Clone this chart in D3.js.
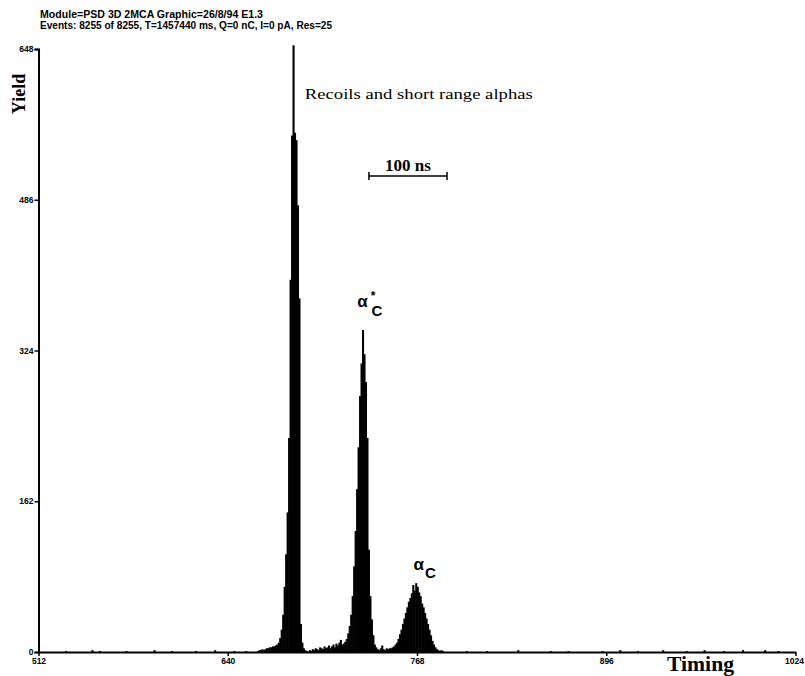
<!DOCTYPE html>
<html>
<head>
<meta charset="utf-8">
<script src="https://cdn.jsdelivr.net/npm/d3@7"></script>
<style>
  body { margin: 0; background: #fff; }
  svg { display: block; }
</style>
</head>
<body>
<svg id="chart" width="805" height="676"></svg>
<script>
// Acquisition header printed above the spectrum
const headerLines = [
  "Module=PSD 3D 2MCA Graphic=26/8/94 E1.3",
  "Events: 8255 of 8255, T=1457440 ms, Q=0 nC, I=0 pA, Res=25"
];

// Axis ticks (channel numbers and counts)
const xTicks = [512, 640, 768, 896, 1024];
const yTicks = [0, 162, 324, 486, 648];

// Counts per channel for the peak region, starting at channel 660
const firstChannel = 660;
const counts = [
  1, 2, 2, 3, 2, 3, 4, 4, 5, 5,              // 660
  6, 6, 7, 8, 10, 15, 24, 40, 70, 105,        // 670
  150, 230, 400, 555, 652, 558, 550, 480, 380, 30, // 680
  10, 4, 2, 1, 0, 2, 1, 3, 2, 4,              // 690
  3, 2, 5, 4, 3, 6, 4, 5, 7, 4,               // 700
  6, 8, 5, 9, 7, 10, 13, 8, 9, 11,            // 710
  14, 20, 28, 40, 60, 92, 130, 175, 220, 275, // 720
  310, 346, 320, 290, 230, 110, 60, 35, 18, 8, // 730
  5, 3, 2, 4, 7, 3, 2, 4, 3, 4,               // 740
  4, 5, 6, 8, 10, 14, 19, 24, 30, 36,         // 750
  42, 48, 54, 58, 63, 72, 66, 74, 70, 64,     // 760
  60, 52, 48, 42, 36, 30, 24, 18, 12, 8,      // 770
  5, 3, 2, 1, 2, 1                            // 780
];

// Sparse background hits outside the peak region
const bgChannels = [530, 548, 553, 571, 590, 602, 618, 631, 644, 652,
                    801, 815, 836, 858, 870, 893, 905, 917, 934, 950, 962, 975, 988, 1003, 1012];
const bgCounts   = [1, 2, 1, 1, 2, 1, 1, 2, 1, 1,
                    1, 1, 2, 1, 1, 1, 2, 1, 2, 1, 2, 1, 2, 2, 1];

const chMin = 512;

// Non-empty channels of the histogram
const hist = counts.map((n, i) => ({ ch: firstChannel + i, n }))
  .concat(bgChannels.map((ch, i) => ({ ch, n: bgCounts[i] })))
  .filter(d => d.n > 0);

const svg = d3.select("#chart");

const x = d3.scaleLinear().domain([512, 1024]).range([38.5, 795.5]);
const y = d3.scaleLinear().domain([0, 648]).range([652, 49]);

const tickFont = "'Liberation Sans', Arial, sans-serif";
const serif = "'Liberation Serif', 'Times New Roman', serif";

// Header
const headerWidths = [223, 292];
svg.append("g")
  .selectAll("text")
  .data(headerLines)
  .join("text")
  .attr("x", 40)
  .attr("y", (d, i) => 18 + i * 11)
  .attr("font-family", tickFont)
  .attr("font-weight", "bold")
  .attr("font-size", 10)
  .attr("textLength", (d, i) => headerWidths[i])
  .attr("lengthAdjust", "spacingAndGlyphs")
  .attr("fill", "#000")
  .text(d => d);

// Histogram: one solid bar per channel (bars overlap slightly so the fill is continuous)
svg.append("g")
  .selectAll("rect")
  .data(hist)
  .join("rect")
  .attr("x", d => x(d.ch) - 0.3)
  .attr("width", d => x(d.ch + 1) - x(d.ch) + 0.6)
  .attr("y", d => y(d.n))
  .attr("height", d => y(0) - y(d.n))
  .attr("fill", "#000");

// Y axis
const yAxis = svg.append("g")
  .attr("transform", `translate(${x(512)},0)`)
  .call(d3.axisLeft(y).tickValues(yTicks).tickFormat(d3.format("d"))
    .tickSize(4).tickSizeOuter(4).tickPadding(1));

// X axis
const xAxis = svg.append("g")
  .attr("transform", `translate(0,${y(0)})`)
  .call(d3.axisBottom(x).tickValues(xTicks).tickFormat(d3.format("d"))
    .tickSize(4).tickSizeOuter(0).tickPadding(2));

[yAxis, xAxis].forEach(g => {
  g.select(".domain").attr("stroke", "#000").attr("stroke-width", 2);
  g.selectAll(".tick line").attr("stroke", "#000").attr("stroke-width", 1.5);
  g.selectAll(".tick text")
    .attr("font-family", tickFont)
    .attr("font-weight", "bold")
    .attr("font-size", 8.5)
    .attr("fill", "#000");
});
// last channel label sits at the right border
xAxis.selectAll(".tick text").filter(d => d === 1024)
  .attr("text-anchor", "end").attr("dx", 8);

// Axis titles
svg.append("text")
  .attr("transform", "translate(25,94) rotate(-90)")
  .attr("text-anchor", "middle")
  .attr("font-family", serif)
  .attr("font-weight", "bold")
  .attr("font-size", 18)
  .text("Yield");

svg.append("text")
  .attr("x", 667)
  .attr("y", 671)
  .attr("font-family", serif)
  .attr("font-weight", "bold")
  .attr("font-size", 20)
  .attr("textLength", 67)
  .attr("lengthAdjust", "spacingAndGlyphs")
  .text("Timing");

// Peak annotations
svg.append("text")
  .attr("x", x(684) + 12)
  .attr("y", 99)
  .attr("font-family", serif)
  .attr("font-size", 15)
  .attr("textLength", 228)
  .attr("lengthAdjust", "spacingAndGlyphs")
  .text("Recoils and short range alphas");

// 100 ns scale bar
const barFrom = 735.5, barTo = 788.3, barY = 176;
const bar = svg.append("g").attr("stroke", "#000").attr("stroke-width", 1.5);
bar.append("line").attr("x1", x(barFrom)).attr("x2", x(barTo)).attr("y1", barY).attr("y2", barY);
bar.append("line").attr("x1", x(barFrom)).attr("x2", x(barFrom)).attr("y1", barY - 4).attr("y2", barY + 4);
bar.append("line").attr("x1", x(barTo)).attr("x2", x(barTo)).attr("y1", barY - 4).attr("y2", barY + 4);
svg.append("text")
  .attr("x", (x(barFrom) + x(barTo)) / 2)
  .attr("y", barY - 5)
  .attr("text-anchor", "middle")
  .attr("font-family", serif)
  .attr("font-weight", "bold")
  .attr("font-size", 17)
  .text("100 ns");

// alpha labels
function alphaLabel(cx, cy, star) {
  const t = svg.append("text")
    .attr("x", cx)
    .attr("y", cy)
    .attr("font-family", tickFont)
    .attr("font-weight", "bold")
    .attr("font-size", 17)
    .attr("fill", "#000");
  t.append("tspan").text("α");
  if (star) {
    t.append("tspan").attr("dx", 3).attr("dy", -7).attr("font-size", 12).text("*");
    t.append("tspan").attr("dx", -4).attr("dy", 16).attr("font-size", 15).text("C");
  } else {
    t.append("tspan").attr("dx", 1).attr("dy", 8).attr("font-size", 15).text("C");
  }
}
alphaLabel(x(731) - 5, 307, true);
alphaLabel(x(765) + 1, 570, false);
</script>
</body>
</html>
